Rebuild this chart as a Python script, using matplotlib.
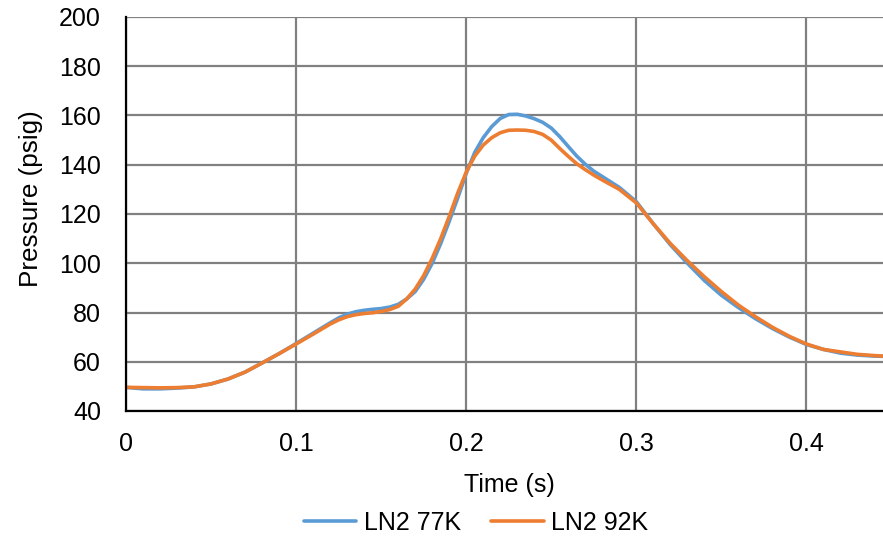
import numpy as np
import matplotlib.pyplot as plt

# time (s) and pressure (psig)
time_s = [0.000, 0.010, 0.020, 0.030, 0.040, 0.050, 0.060, 0.070, 0.080, 0.090,
          0.100, 0.110, 0.120,
          0.125, 0.130, 0.135, 0.140, 0.145, 0.150, 0.155, 0.160, 0.165, 0.170,
          0.175, 0.180, 0.185, 0.190, 0.195, 0.200, 0.205, 0.210, 0.215, 0.220,
          0.225, 0.230, 0.235, 0.240, 0.245, 0.250, 0.255, 0.260, 0.265, 0.270,
          0.275, 0.280,
          0.290, 0.300, 0.310, 0.320, 0.330, 0.340, 0.350, 0.360, 0.370, 0.380,
          0.390, 0.400, 0.410, 0.420, 0.430, 0.440, 0.445]

ln2_77k = [49.6, 49.0, 49.0, 49.3, 49.8, 51.0, 53.0, 55.8, 59.5, 63.3,
           67.4, 71.6, 75.8,
           77.8, 79.3, 80.3, 80.9, 81.3, 81.6, 82.2, 83.3, 85.5, 88.5,
           93.5, 100.0, 108.0, 117.0, 126.5, 136.5, 145.0, 151.0, 155.5, 158.8,
           160.4, 160.5, 159.8, 158.7, 157.2, 154.9, 151.4, 147.4, 143.5, 140.2,
           137.4, 135.2,
           130.8, 125.0, 116.0, 107.5, 100.0, 93.0, 87.0, 82.0, 77.5, 73.5,
           70.0, 67.0, 65.0, 63.5, 62.7, 62.3, 62.2]

ln2_92k = [49.6, 49.5, 49.4, 49.5, 49.8, 51.0, 53.0, 55.8, 59.5, 63.3,
           67.2, 71.2, 75.3,
           77.0, 78.3, 79.1, 79.6, 79.9, 80.4, 81.2, 82.5, 85.5, 89.5,
           95.0, 102.0, 110.0, 119.0, 128.5, 137.0, 143.5, 148.0, 151.0, 153.0,
           154.0, 154.1, 154.0, 153.5, 152.3, 150.0, 146.6, 143.4, 140.4, 138.0,
           135.8, 133.8,
           130.0, 124.5, 116.0, 108.0, 101.0, 94.5, 88.5, 83.0, 78.3, 74.0,
           70.3, 67.2, 65.0, 64.0, 63.0, 62.5, 62.3]

plt.rcParams['font.family'] = ['Liberation Sans', 'DejaVu Sans']
FS = 18

fig = plt.figure(figsize=(8.83, 5.44), dpi=100)
ax = fig.add_axes([126 / 883, 1 - 411 / 544, (883 - 126) / 883, (411 - 17) / 544])

ax.plot(time_s, ln2_77k, color='#5B9BD5', lw=2.6, label='LN2 77K', solid_capstyle='round')
ax.plot(time_s, ln2_92k, color='#ED7D31', lw=2.6, label='LN2 92K', solid_capstyle='round')

ax.set_xlim(0, 0.445)
ax.set_ylim(40, 200)
ax.set_xticks([0, 0.1, 0.2, 0.3, 0.4])
ax.set_xticklabels(['0', '0.1', '0.2', '0.3', '0.4'])
ax.set_yticks(np.arange(40, 201, 20))

ax.grid(True, color='#808080', lw=1.6)
ax.set_axisbelow(True)
for side in ['top', 'right']:
    ax.spines[side].set_visible(False)
for side in ['left', 'bottom']:
    ax.spines[side].set_color('black')
    ax.spines[side].set_linewidth(1.6)

ax.tick_params(axis='y', length=0, labelsize=FS, colors='black', pad=18)
ax.tick_params(axis='x', length=0, labelsize=FS, colors='black', pad=15)
ax.set_xlabel('Time (s)', fontsize=FS)
ax.set_ylabel('Pressure (psig)', fontsize=18.8)
ax.xaxis.set_label_coords(0.506, -0.157)
ax.yaxis.set_label_coords(-0.109, 0.538)

fig.legend(loc='center', bbox_to_anchor=(476 / 883, 1 - 523 / 544), ncol=2, frameon=False,
           fontsize=FS, handlelength=2.1, handletextpad=0.3, columnspacing=1.2)

fig.savefig('out.png', dpi=100)
